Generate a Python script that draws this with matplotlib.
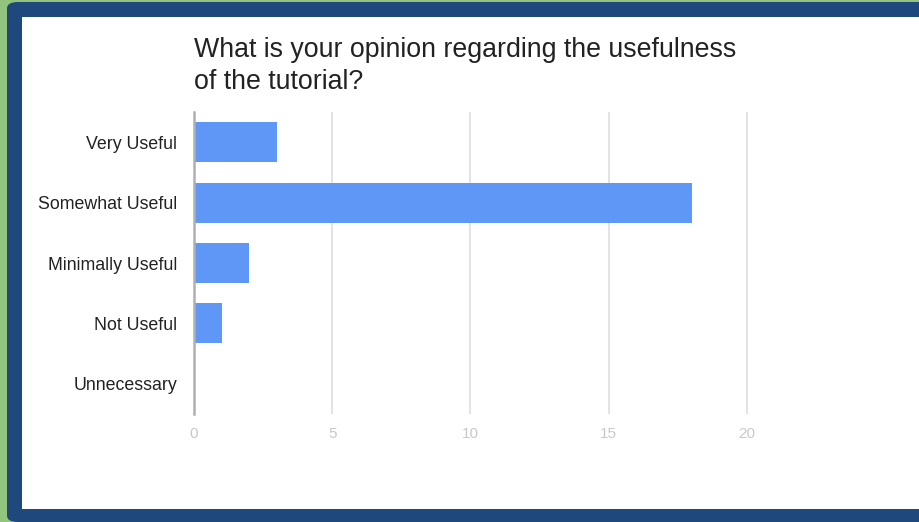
import matplotlib.pyplot as plt
from matplotlib.patches import Rectangle, FancyBboxPatch

plt.rcParams['font.family'] = ['Liberation Sans', 'DejaVu Sans']

# data
categories = ['Very Useful', 'Somewhat Useful', 'Minimally Useful', 'Not Useful', 'Unnecessary']
counts = [3, 18, 2, 1, 0]
xticks = [0, 5, 10, 15, 20]
title_lines = ['What is your opinion regarding the usefulness', 'of the tutorial?']

W, H = 920, 522
fig = plt.figure(figsize=(W / 100, H / 100), dpi=100)
fig.patch.set_facecolor('#93c47d')

# frame (blue border + white card)
fig.patches.append(FancyBboxPatch((7 / W, 0), 1.05, (H - 2) / H,
                                  boxstyle='round,pad=0,rounding_size=0.012',
                                  transform=fig.transFigure, facecolor='#1f497d',
                                  edgecolor='none', zorder=0))
fig.patches.append(Rectangle((22 / W, 1 - 509 / H), (919 - 22) / W, (509 - 17) / H,
                             transform=fig.transFigure, facecolor='white',
                             edgecolor='none', zorder=1))

ax = fig.add_axes([194 / W, 1 - 414 / H, 558.5 / W, 302 / H])
ax.set_facecolor('none')
ax.set_zorder(2)

ax.barh(range(len(categories)), counts, height=0.66, color='#5e97f6', zorder=3)
ax.set_xlim(0, 20.2)
ax.set_ylim(len(categories) - 0.5, -0.5)

ax.set_xticks(xticks)
ax.set_xticklabels([str(t) for t in xticks], color='#c8c8c8', fontsize=11)
ax.set_yticks(range(len(categories)))
ax.set_yticklabels(categories, color='#222222', fontsize=12.8)
ax.tick_params(axis='both', length=0)
ax.tick_params(axis='x', pad=9)
ax.tick_params(axis='y', pad=12)

ax.grid(axis='x', color='#e0e0e0', linewidth=1.3, zorder=1)
for s in ['top', 'right', 'bottom']:
    ax.spines[s].set_visible(False)
ax.spines['left'].set_color('#b0b0b0')
ax.spines['left'].set_linewidth(1.8)
ax.spines['left'].set_zorder(4)

fig.text(194 / W, 1 - 57 / H, title_lines[0], fontsize=19.3, color='#222222', va='baseline', zorder=5)
fig.text(194 / W, 1 - 89 / H, title_lines[1], fontsize=19.3, color='#222222', va='baseline', zorder=5)

fig.savefig('out.png', dpi=100, facecolor=fig.get_facecolor())
